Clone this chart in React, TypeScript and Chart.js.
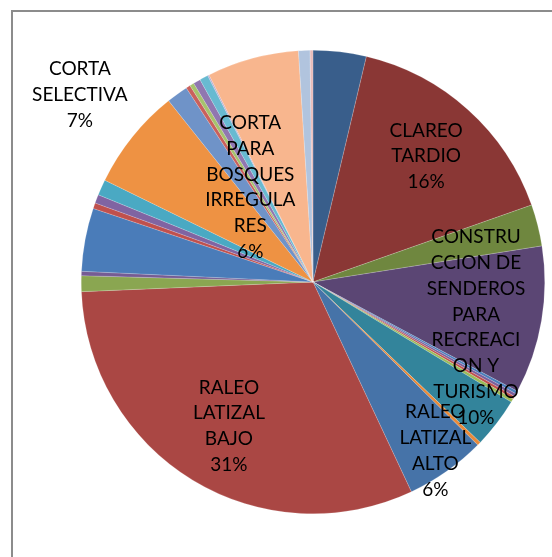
import React, { useEffect, useRef } from "react";
import { Chart, registerables } from "chart.js";

Chart.register(...registerables);

const categories: string[] = [
  "S1", "CLAREO TARDIO", "S3", "CONSTRUCCION DE SENDEROS PARA RECREACION Y TURISMO",
  "S5", "S6", "S7", "S8", "S9", "S10", "RALEO LATIZAL ALTO", "RALEO LATIZAL BAJO",
  "S13", "S14", "S15", "S16", "S17", "S18", "CORTA SELECTIVA", "S20", "S21", "S22",
  "S23", "S24", "S25", "CORTA PARA BOSQUES IRREGULARES", "S27", "S28",
];

const values: number[] = [
  3.7, 15.9, 2.9, 10.3,
  0.2, 0.2, 0.2, 0.25, 3.5, 0.25, 5.6, 31.3,
  1.1, 0.3, 4.4, 0.4, 0.6, 1.1, 7.05, 1.5, 0.3,
  0.3, 0.5, 0.6, 0.1, 6.4, 0.8, 0.2,
];

const colors: string[] = [
  "#395e8b", "#8a3735", "#6f873f", "#5b4674",
  "#4a7ebb", "#7a5e9c", "#c0504d", "#9bbb59", "#33849b", "#e98a3a", "#4673a8", "#aa4744",
  "#8aa651", "#755c94", "#4a7cb9", "#c0504d", "#8064a2", "#4aa9c3", "#ee9243", "#6f93c8", "#c9605c",
  "#a6c36d", "#9077b0", "#68bad1", "#b8a9cf", "#f8b68e", "#b1c4de", "#e8bcbb",
];

// label lines for named slices: [index, lines, radius factor, angle nudge (deg)]
const labelIndex: number[] = [1, 3, 10, 11, 18, 25];
const labelLines: string[][] = [
  ["CLAREO", "TARDIO"],
  ["CONSTRU", "CCION DE", "SENDEROS", "PARA", "RECREACI", "ON Y", "TURISMO"],
  ["RALEO", "LATIZAL", "ALTO"],
  ["RALEO", "LATIZAL", "BAJO"],
  ["CORTA", "SELECTIVA"],
  ["CORTA", "PARA", "BOSQUES", "IRREGULA", "RES"],
];
const labelRadius: number[] = [0.73, 0.73, 0.9, 0.72, 1.29, 0.49];
const labelNudge: number[] = [0, 6, -0.7, -1, 0, -18.4];

const FONT = "Lato, 'Noto Sans', sans-serif";

const labelPlugin = {
  id: "sliceLabels",
  afterDatasetsDraw(chart: any) {
    const ctx = chart.ctx as CanvasRenderingContext2D;
    const meta = chart.getDatasetMeta(0);
    const data = chart.data.datasets[0].data as number[];
    const total = data.reduce((a, b) => a + b, 0);
    ctx.save();
    ctx.fillStyle = "#000000";
    ctx.font = `19px ${FONT}`;
    ctx.textAlign = "center";
    ctx.textBaseline = "middle";
    const lh = 25.8;
    labelIndex.forEach((idx, k) => {
      const arc = meta.data[idx] as any;
      const { x, y, startAngle, endAngle, outerRadius } = arc.getProps(
        ["x", "y", "startAngle", "endAngle", "outerRadius"],
        true
      );
      const mid = (startAngle + endAngle) / 2 + (labelNudge[k] * Math.PI) / 180;
      const r = outerRadius * labelRadius[k];
      const cx = x + Math.cos(mid) * r;
      const cy = y + Math.sin(mid) * r;
      const pct = Math.round((data[idx] / total) * 100) + "%";
      const lines = [...labelLines[k], pct];
      const top = cy - ((lines.length - 1) * lh) / 2;
      lines.forEach((t, i) => ctx.fillText(t, cx, top + i * lh));
    });
    ctx.restore();
  },
};

const framePlugin = {
  id: "frame",
  beforeDraw(chart: any) {
    const ctx = chart.ctx as CanvasRenderingContext2D;
    ctx.save();
    ctx.fillStyle = "#ffffff";
    ctx.fillRect(0, 0, chart.width, chart.height);
    ctx.strokeStyle = "#8c8c8c";
    ctx.lineWidth = 2;
    ctx.strokeRect(12, 11, chart.width + 20, chart.height + 20);
    ctx.restore();
  },
};

export default function App() {
  const ref = useRef<HTMLCanvasElement | null>(null);
  useEffect(() => {
    if (!ref.current) return;
    const chart = new Chart(ref.current, {
      type: "pie",
      data: {
        labels: categories,
        datasets: [
          {
            data: values,
            backgroundColor: colors,
            borderColor: "rgba(255,255,255,0.35)",
            borderWidth: 0.5,
          },
        ],
      },
      options: {
        responsive: false,
        animation: false,
        layout: { padding: { left: 81, right: 7, top: 50, bottom: 43 } },
        plugins: {
          legend: { display: false },
          tooltip: { enabled: false },
        },
      },
      plugins: [framePlugin, labelPlugin],
    });
    return () => chart.destroy();
  }, []);
  return (
    <div style={{ position: "fixed", left: 0, top: 0, width: 552, height: 557, background: "#fff" }}>
      <canvas ref={ref} width={552} height={557} style={{ display: "block" }} />
    </div>
  );
}
